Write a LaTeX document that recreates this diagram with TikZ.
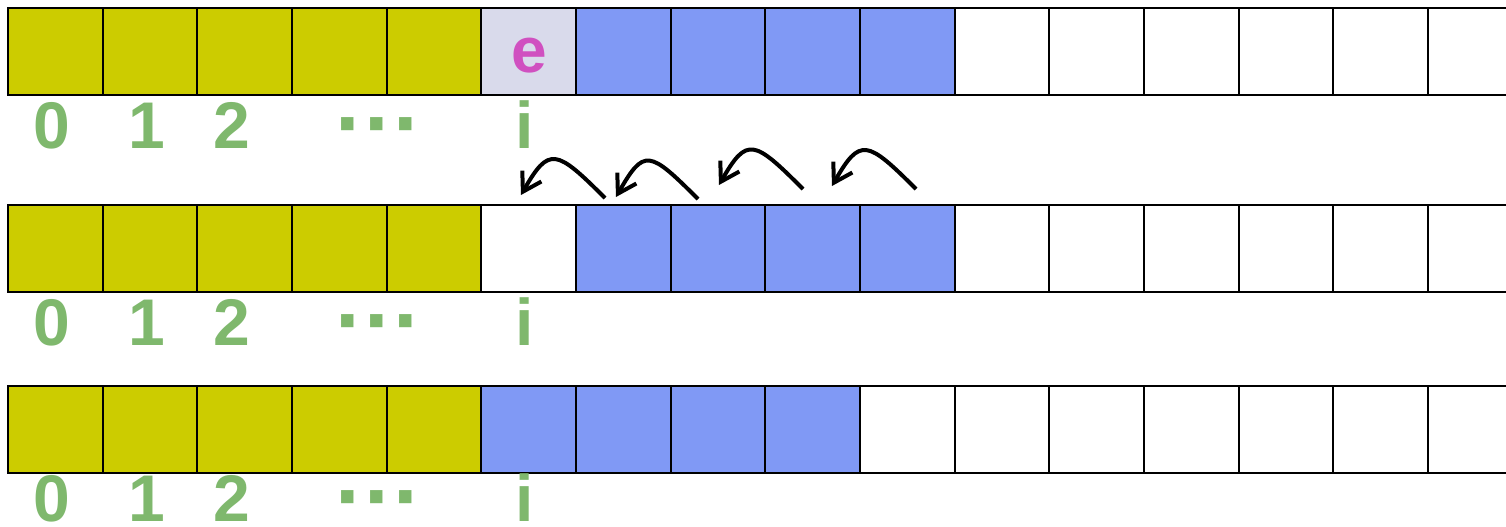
\documentclass[tikz,border=0pt]{standalone}
\usepackage{fontspec}
\setmainfont{Liberation Sans}
\usetikzlibrary{arrows.meta}
\definecolor{cellolive}{RGB}{204,204,0}
\definecolor{cellblue}{RGB}{128,153,245}
\definecolor{celllav}{RGB}{217,218,235}
\definecolor{idxgreen}{RGB}{127,184,109}
\definecolor{emag}{RGB}{208,80,192}
\begin{document}
\begin{tikzpicture}[x=0.5pt,y=-0.5pt,
 cell/.style={draw=black,line width=1pt,minimum width=47.33pt,minimum height=43.5pt,inner sep=0pt,outer sep=0pt},
 idx/.style={text=idxgreen,font=\fontsize{33}{40}\selectfont\bfseries,anchor=base,inner sep=0pt},
 dotsidx/.style={text=idxgreen,font=\fontsize{44}{50}\selectfont\bfseries,anchor=base,inner sep=0pt},
 etext/.style={text=emag,font=\fontsize{32}{40}\selectfont\bfseries,inner sep=0pt},
 arr/.style={line width=2pt,-{Straight Barb[length=9pt,width=11pt]}}]
\useasboundingbox (0,0) rectangle (1506,526);
\clip (0,0) rectangle (1506,526);
% row 1
\foreach \c/\f in {0/cellolive,1/cellolive,2/cellolive,3/cellolive,4/cellolive,5/celllav,6/cellblue,7/cellblue,8/cellblue,9/cellblue,10/white,11/white,12/white,13/white,14/white,15/white}
  \node[cell,fill=\f] (r1c\c) at ({8+94.67*(\c+0.5)},51.5) {};
\node[etext] (e) at (529,56) {e};
% row 2
\foreach \c/\f in {0/cellolive,1/cellolive,2/cellolive,3/cellolive,4/cellolive,5/white,6/cellblue,7/cellblue,8/cellblue,9/cellblue,10/white,11/white,12/white,13/white,14/white,15/white}
  \node[cell,fill=\f] (r2c\c) at ({8+94.67*(\c+0.5)},248.5) {};
% row 3
\foreach \c/\f in {0/cellolive,1/cellolive,2/cellolive,3/cellolive,4/cellolive,5/cellblue,6/cellblue,7/cellblue,8/cellblue,9/white,10/white,11/white,12/white,13/white,14/white,15/white}
  \node[cell,fill=\f] (r3c\c) at ({8+94.67*(\c+0.5)},429.5) {};
% index labels
\foreach \r/\b in {1/148,2/345,3/521} {
  \node[idx] (l\r zero) at (52,\b) {0};
  \node[idx] (l\r one) at (147,\b) {1};
  \node[idx] (l\r two) at (232,\b) {2};
  \node[dotsidx] (l\r dots) at (379,{\b+5}) {···};
  \node[idx] (l\r i) at (525,\b) {i};
}
% shifting arrows
\coordinate (a1s) at (605,198); \coordinate (a1t) at (521,195);
\coordinate (a2s) at (698,199); \coordinate (a2t) at (616,197);
\coordinate (a3s) at (803,189); \coordinate (a3t) at (719,185);
\coordinate (a4s) at (916,189); \coordinate (a4t) at (832,186);
\foreach \k in {1,2,3,4}
  \draw[arr] (a\k s) .. controls +(-49,-49) and +(28,-49) .. (a\k t);
\end{tikzpicture}
\end{document}
